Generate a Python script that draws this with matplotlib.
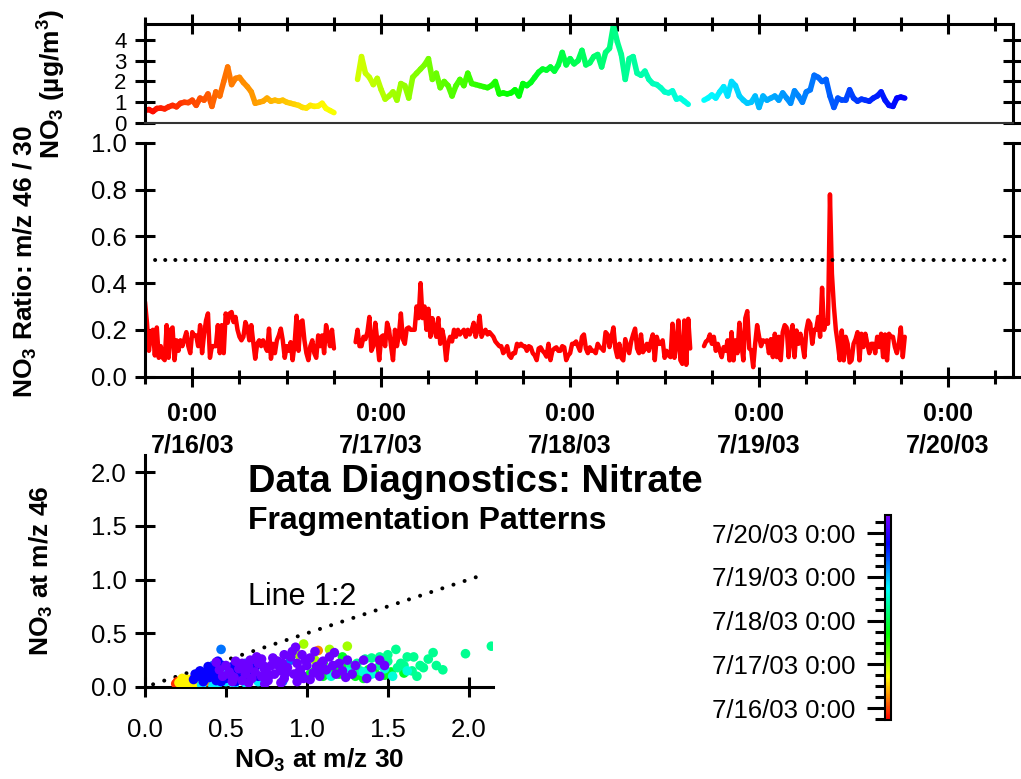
import numpy as np
import matplotlib
matplotlib.use("Agg")
import matplotlib.pyplot as plt
from matplotlib.collections import LineCollection
from matplotlib.colors import LinearSegmentedColormap, Normalize
import matplotlib.cm as cm
from matplotlib.ticker import MultipleLocator, FormatStrFormatter

plt.rcParams['font.family'] = ['Liberation Sans', 'DejaVu Sans']
plt.rcParams['mathtext.fontset'] = 'custom'
plt.rcParams['mathtext.rm'] = 'Liberation Sans'
plt.rcParams['mathtext.bf'] = 'Liberation Sans:bold'
plt.rcParams['mathtext.it'] = 'Liberation Sans:italic'

# ---------------- data (time in hours since 7/16/03 0:00) ----------------
NO3_STEP = 0.5
no3_seg1_start = -6.0
no3_seg1 = [0.6, 0.65, 0.55, 0.7, 0.72, 0.68, 0.78, 0.85, 0.78, 0.95, 1.0, 0.98,
            1.1, 0.85, 1.2, 1.1, 1.4, 0.8, 1.5, 1.3, 2.0, 2.7, 1.85, 2.15, 2.2,
            1.95, 1.75, 1.5, 0.95, 1.0, 1.05, 1.2, 1.05, 1.1, 1.05, 1.1, 1.0, 0.95,
            0.9, 0.85, 0.75, 0.72, 0.85, 0.8, 0.82, 0.95, 0.7, 0.6, 0.5]
no3_seg2_start = 21.0
no3_seg2 = [2.1, 3.2, 2.4, 2.2, 1.85, 2.15, 1.6, 1.15, 1.3, 1.5, 1.1, 1.9, 1.8, 1.2,
            2.2, 2.4, 2.6, 2.8, 3.1, 2.1, 2.4, 1.7, 2.0, 1.8, 1.3, 1.8, 2.1, 1.8,
            2.4, 1.9, 1.85, 1.8, 1.75, 1.7, 1.8, 2.0, 1.4, 1.45, 1.4, 1.45, 1.6,
            1.3, 1.9, 1.8, 1.95, 2.2, 2.45, 2.6, 2.55, 2.7, 2.5, 2.8, 3.4, 2.8, 3.1,
            2.85, 3.0, 3.5, 2.8, 2.9, 3.2, 3.3, 2.7, 3.4, 3.6, 4.7, 3.9, 3.3, 2.1,
            3.1, 3.2, 2.4, 2.3, 2.5, 2.1, 1.9, 1.85, 1.7, 1.5, 1.45, 1.55, 1.15,
            1.2, 1.05, 0.9]
no3_seg3_start = 65.0
no3_seg3 = [1.1, 1.2, 1.35, 1.2, 1.5, 1.75, 1.3, 2.0, 1.8, 1.3, 1.1, 0.95, 1.0, 1.3,
            0.75, 1.3, 1.1, 1.2, 1.3, 1.1, 1.45, 1.2, 0.95, 1.55, 1.3, 1.0, 1.5,
            1.6, 2.3, 2.2, 2.0, 2.1, 1.3, 0.75, 1.2, 1.1, 1.1, 1.6, 1.2, 1.05, 1.15,
            1.1, 1.05, 1.2, 1.3, 1.5, 1.1, 0.85, 0.8, 1.2, 1.25, 1.2]

RATIO_STEP = 0.25
ratio_seg1_start = -6.0
ratio_seg1 = [0.32, 0.23, 0.11, 0.19, 0.2, 0.09, 0.21, 0.08, 0.13, 0.08, 0.07, 0.22,
              0.08, 0.2, 0.21, 0.07, 0.155, 0.11, 0.155, 0.13, 0.16, 0.19, 0.13, 0.10,
              0.19, 0.176, 0.176, 0.13, 0.22, 0.10, 0.18, 0.24, 0.27, 0.08, 0.13, 0.13,
              0.13, 0.22, 0.10, 0.22, 0.10, 0.27, 0.23, 0.27, 0.276, 0.233, 0.255, 0.2,
              0.17, 0.155, 0.17, 0.233, 0.21, 0.155, 0.22, 0.147, 0.076, 0.14, 0.155,
              0.13, 0.155, 0.13, 0.11, 0.205, 0.076, 0.14, 0.10, 0.155, 0.176, 0.205,
              0.155, 0.08, 0.13, 0.11, 0.147, 0.07, 0.14, 0.26, 0.11, 0.233, 0.24,
              0.155, 0.10, 0.07, 0.13, 0.155, 0.10, 0.08, 0.176, 0.13, 0.176, 0.10,
              0.22, 0.176, 0.13, 0.2, 0.12]
ratio_seg2_start = 20.75
ratio_seg2 = [0.147, 0.2, 0.13, 0.13, 0.17, 0.16, 0.19, 0.255, 0.11, 0.13, 0.23, 0.155,
              0.07, 0.17, 0.176, 0.13, 0.23, 0.2, 0.13, 0.07, 0.2, 0.13, 0.18, 0.27,
              0.16, 0.14, 0.205, 0.21, 0.2, 0.2, 0.2, 0.3, 0.25,
              0.40, 0.25, 0.3, 0.2, 0.29, 0.17, 0.25, 0.2, 0.17, 0.25, 0.14, 0.2, 0.16,
              0.07, 0.14, 0.17, 0.15, 0.2, 0.17, 0.2, 0.18, 0.19, 0.2, 0.17, 0.2, 0.18,
              0.2, 0.23, 0.17, 0.2, 0.26, 0.17, 0.19, 0.2, 0.18, 0.19, 0.18, 0.17, 0.15,
              0.14, 0.13, 0.13, 0.1, 0.11, 0.13, 0.09, 0.08, 0.1, 0.1, 0.14, 0.13,
              0.14, 0.13, 0.13, 0.11, 0.13, 0.125, 0.1, 0.09, 0.07, 0.12, 0.125, 0.11,
              0.1, 0.085, 0.14, 0.07, 0.11, 0.12, 0.125, 0.11, 0.11, 0.13, 0.125, 0.07,
              0.09, 0.1, 0.14, 0.14, 0.15, 0.13, 0.11, 0.17, 0.18, 0.12, 0.1, 0.125,
              0.11, 0.11, 0.1, 0.14, 0.126, 0.12, 0.11, 0.19, 0.18, 0.126, 0.17, 0.21,
              0.12, 0.083, 0.14, 0.08, 0.069, 0.16, 0.13, 0.1, 0.15, 0.18, 0.205, 0.12,
              0.1, 0.18, 0.104, 0.12, 0.14, 0.11, 0.15, 0.18, 0.07, 0.17, 0.14, 0.14,
              0.155, 0.08, 0.11, 0.09, 0.083, 0.226, 0.08, 0.14, 0.24, 0.07, 0.054,
              0.24, 0.05, 0.247, 0.12]
ratio_seg3_start = 65.0
ratio_seg3 = [0.13, 0.15, 0.155, 0.18, 0.14, 0.17, 0.11, 0.14, 0.11, 0.083, 0.126, 0.11,
              0.155, 0.069, 0.19, 0.069, 0.155, 0.1, 0.23, 0.14, 0.069, 0.25, 0.28, 0.12,
              0.112, 0.04, 0.14, 0.22, 0.17, 0.13, 0.155, 0.15, 0.155, 0.1, 0.16, 0.083,
              0.183, 0.083, 0.17, 0.07, 0.19, 0.22, 0.21, 0.083, 0.18, 0.22, 0.083,
              0.197, 0.14, 0.183, 0.14, 0.083, 0.197, 0.24, 0.226, 0.14, 0.2, 0.2, 0.255,
              0.17, 0.38, 0.2, 0.24, 0.226, 0.78, 0.44, 0.3, 0.2, 0.14, 0.07, 0.197,
              0.069, 0.17, 0.14, 0.06, 0.069, 0.14, 0.16, 0.19, 0.069, 0.183, 0.126,
              0.183, 0.14, 0.1, 0.14, 0.14, 0.1, 0.17, 0.126, 0.183, 0.083, 0.18, 0.069,
              0.183, 0.17, 0.17, 0.126, 0.1, 0.14, 0.21, 0.083, 0.17]
ratio_threshold = 0.5

# scatter: NO3 at m/z 30 (x) vs m/z 46 (y); groups by acquisition time (h)
sc_red_t = -2.0
sc_red_x = [0.19, 0.21, 0.23, 0.20, 0.25, 0.22, 0.28, 0.30, 0.33, 0.35, 0.26]
sc_red_y = [0.03, 0.02, 0.04, 0.05, 0.03, 0.06, 0.02, 0.04, 0.02, 0.03, 0.05]
sc_orange_t = 6.0
sc_orange_x = [0.38, 1.07, 0.80, 0.31]
sc_orange_y = [0.05, 0.34, 0.25, 0.02]
sc_yellow_t = 16.0
sc_yellow_x = [0.22, 0.24, 0.26, 0.24, 0.27, 0.29, 0.23, 0.30, 0.26, 0.32, 0.28, 0.21, 0.25, 0.31]
sc_yellow_y = [0.05, 0.06, 0.04, 0.03, 0.07, 0.05, 0.08, 0.03, 0.02, 0.06, 0.04, 0.04, 0.07, 0.05]
sc_ygreen_t = 26.0
sc_ygreen_x = [0.98, 1.25, 1.14, 0.95, 1.05]
sc_ygreen_y = [0.40, 0.38, 0.35, 0.30, 0.25]
sc_green_t = 44.0
sc_green_x = [1.02, 1.05, 1.10, 1.15, 1.20, 1.25, 1.30, 1.35, 1.38, 1.42, 1.48, 1.52,
              1.60, 1.30, 1.18, 1.10, 1.22]
sc_green_y = [0.12, 0.15, 0.10, 0.14, 0.12, 0.18, 0.10, 0.08, 0.16, 0.13, 0.11, 0.14,
              0.13, 0.20, 0.20, 0.22, 0.28]
sc_spring_t = 55.0
sc_spring_x = [1.31, 1.40, 1.45, 1.50, 1.55, 1.58, 1.62, 1.65, 1.70, 1.75, 1.78, 1.80,
               1.84, 1.98, 2.14, 1.68, 1.72, 1.56, 1.50, 1.45, 1.36, 1.27, 1.33, 1.60, 1.66]
sc_spring_y = [0.22, 0.27, 0.20, 0.30, 0.35, 0.22, 0.28, 0.15, 0.20, 0.26, 0.32, 0.20,
               0.16, 0.31, 0.38, 0.10, 0.18, 0.18, 0.24, 0.28, 0.26, 0.20, 0.15, 0.20, 0.28]
sc_aqua_t = 62.0
sc_aqua_x = [1.25, 1.40, 1.48, 1.53, 1.15, 1.35, 1.62]
sc_aqua_y = [0.14, 0.12, 0.17, 0.10, 0.10, 0.14, 0.15]
sc_cyan_t = 67.0
sc_cyan_x = [0.35, 0.45, 0.55, 0.62, 0.70, 0.42, 0.50]
sc_cyan_y = [0.02, 0.03, 0.02, 0.04, 0.05, 0.01, 0.05]
sc_azure_t = 79.0
sc_azure_x = [0.47, 0.42, 0.62, 0.85, 0.58, 0.38, 0.52, 0.90]
sc_azure_y = [0.35, 0.20, 0.22, 0.05, 0.10, 0.08, 0.15, 0.25]
sc_blue_t = 91.0
sc_blue_x = [0.30, 0.33, 0.36, 0.38, 0.40, 0.42, 0.44, 0.46, 0.48, 0.50, 0.52, 0.54,
             0.56, 0.58, 0.60, 0.34, 0.39, 0.45, 0.55, 0.62, 0.65, 0.68, 0.70, 0.31,
             0.37, 0.43, 0.40, 0.47]
sc_blue_y = [0.07, 0.10, 0.05, 0.13, 0.09, 0.16, 0.06, 0.11, 0.20, 0.08, 0.13, 0.17,
             0.05, 0.12, 0.15, 0.15, 0.19, 0.24, 0.20, 0.08, 0.13, 0.18, 0.10, 0.12,
             0.09, 0.12, 0.15, 0.05]
sc_purple_t = 104.0
sc_purple_x = [0.48, 0.52, 0.55, 0.58, 0.60, 0.62, 0.64, 0.66, 0.68, 0.70, 0.72, 0.74,
               0.76, 0.78, 0.80, 0.82, 0.84, 0.86, 0.88, 0.90, 0.92, 0.94, 0.96, 0.98,
               1.00, 1.02, 1.04, 1.06, 1.08, 1.10, 1.12, 1.14, 1.16, 1.18, 0.93, 0.91,
               0.97, 1.05, 0.86, 0.79, 0.72, 0.69, 0.65, 0.60, 0.56, 0.50, 0.46, 0.44,
               0.54, 0.64, 0.74, 0.84, 0.94, 1.02, 0.77, 0.87, 0.97, 0.99, 1.09, 0.83,
               0.73, 0.63, 0.53, 1.20, 1.22, 1.24, 1.30, 1.35, 1.40, 1.45, 1.45, 1.37,
               1.28, 1.48, 1.25, 1.17, 0.75, 0.85, 0.95, 1.07]
sc_purple_y = [0.10, 0.14, 0.09, 0.17, 0.06, 0.12, 0.19, 0.08, 0.14, 0.22, 0.10, 0.16,
               0.06, 0.20, 0.12, 0.24, 0.15, 0.08, 0.18, 0.28, 0.12, 0.22, 0.16, 0.08,
               0.20, 0.27, 0.13, 0.19, 0.10, 0.24, 0.16, 0.28, 0.20, 0.12, 0.37, 0.33,
               0.30, 0.33, 0.30, 0.27, 0.26, 0.28, 0.25, 0.22, 0.24, 0.20, 0.16, 0.23,
               0.05, 0.04, 0.03, 0.04, 0.05, 0.07, 0.11, 0.13, 0.11, 0.25, 0.22, 0.19,
               0.20, 0.16, 0.11, 0.22, 0.15, 0.09, 0.20, 0.25, 0.18, 0.25, 0.10, 0.08,
               0.12, 0.20, 0.25, 0.32, 0.14, 0.22, 0.14, 0.16]

line12_x = [0.05, 2.1]
line12_slope = 0.5

day_ticks = [0, 24, 48, 72, 96]
day_labels = ["0:00\n7/16/03", "0:00\n7/17/03", "0:00\n7/18/03", "0:00\n7/19/03", "0:00\n7/20/03"]
cbar_labels = ["7/16/03 0:00", "7/17/03 0:00", "7/18/03 0:00", "7/19/03 0:00", "7/20/03 0:00"]

# ---------------- figure ----------------
W, H = 1021, 779
fig = plt.figure(figsize=(W / 100, H / 100), dpi=100)


def px_rect(x0, y0, x1, y1):
    return [x0 / W, 1 - y1 / H, (x1 - x0) / W, (y1 - y0) / H]


cmap = LinearSegmentedColormap.from_list(
    'igor_rainbow',
    [(0.0, '#ff0000'), (0.21, '#ffff00'), (0.42, '#00ff00'), (0.64, '#00ffff'),
     (0.86, '#0000ff'), (1.0, '#7a00ff')])
norm = Normalize(vmin=-6.5, vmax=106)

XLIM = (-6.0, 104.25)
SW = 2.2
TL = 14.4

ax1 = fig.add_axes(px_rect(145, 24, 1013, 123))
ax2 = fig.add_axes(px_rect(145, 143, 1013, 376.5))
ax3 = fig.add_axes(px_rect(145, 455, 493, 687))
cax = fig.add_axes(px_rect(885, 515, 891, 720))

# --- top panel: NO3 mass colored by time
for start, vals in [(no3_seg1_start, no3_seg1), (no3_seg2_start, no3_seg2),
                    (no3_seg3_start, no3_seg3)]:
    t = start + NO3_STEP * np.arange(len(vals))
    pts = np.column_stack([t, vals])
    segs = np.stack([pts[:-1], pts[1:]], axis=1)
    lc = LineCollection(segs, cmap=cmap, norm=norm, linewidths=4.0,
                        capstyle='round', joinstyle='round')
    lc.set_array((t[:-1] + t[1:]) / 2)
    ax1.add_collection(lc)
ax1.set_xlim(*XLIM)
ax1.set_ylim(0, 4.77)
ax1.xaxis.set_ticks_position('top')
ax1.set_xticks(day_ticks)
ax1.xaxis.set_minor_locator(MultipleLocator(6))
ax1.tick_params(axis='x', which='both', top=True, bottom=False, labeltop=False,
                labelbottom=False, direction='inout', width=SW)
ax1.tick_params(axis='x', which='major', length=TL)
ax1.tick_params(axis='x', which='minor', length=9.6)
ax1.set_yticks([0, 1, 2, 3, 4])
ax1.tick_params(axis='y', which='both', left=True, right=True, labelright=False,
                direction='inout', length=TL, width=SW, labelsize=16, pad=6)
for s in ['top', 'left', 'right']:
    ax1.spines[s].set_linewidth(SW)
ax1.spines['bottom'].set_linewidth(1.5)
ax1.spines['bottom'].set_color('#333333')
ax1.patch.set_alpha(0)

# --- middle panel: ratio
for start, vals in [(ratio_seg1_start, ratio_seg1), (ratio_seg2_start, ratio_seg2),
                    (ratio_seg3_start, ratio_seg3)]:
    t = start + RATIO_STEP * np.arange(len(vals))
    ax2.plot(t, vals, color='#ff0000', lw=3.2, solid_joinstyle='round',
             solid_capstyle='round')
ax2.axhline(ratio_threshold, color='black', lw=2.9, ls=(0, (0.01, 2.5)),
            dash_capstyle='round')
ax2.set_xlim(*XLIM)
ax2.set_ylim(0, 1.0)
ax2.set_xticks(day_ticks)
ax2.set_xticklabels(day_labels, fontweight='bold', fontsize=18, linespacing=1.4)
ax2.xaxis.set_minor_locator(MultipleLocator(6))
ax2.tick_params(axis='x', which='both', direction='inout', width=SW, pad=11)
ax2.tick_params(axis='x', which='major', length=TL)
ax2.tick_params(axis='x', which='minor', length=9.6)
ax2.set_yticks([0, 0.2, 0.4, 0.6, 0.8, 1.0])
ax2.yaxis.set_major_formatter(FormatStrFormatter('%.1f'))
ax2.tick_params(axis='y', which='both', left=True, right=True, labelright=False,
                direction='inout', length=TL, width=SW, labelsize=18.5, pad=6)
ax2.spines['top'].set_visible(False)
for s in ['bottom', 'left', 'right']:
    ax2.spines[s].set_linewidth(SW)
ax2.patch.set_alpha(0)

# --- scatter panel
groups = [(sc_red_t, sc_red_x, sc_red_y), (sc_orange_t, sc_orange_x, sc_orange_y),
          (sc_yellow_t, sc_yellow_x, sc_yellow_y), (sc_ygreen_t, sc_ygreen_x, sc_ygreen_y),
          (sc_green_t, sc_green_x, sc_green_y), (sc_spring_t, sc_spring_x, sc_spring_y),
          (sc_aqua_t, sc_aqua_x, sc_aqua_y), (sc_cyan_t, sc_cyan_x, sc_cyan_y),
          (sc_azure_t, sc_azure_x, sc_azure_y), (sc_blue_t, sc_blue_x, sc_blue_y),
          (sc_purple_t, sc_purple_x, sc_purple_y)]
lx = np.array(line12_x)
ax3.plot(lx, line12_slope * lx, color='black', lw=2.9, ls=(0, (0.01, 2.9)),
         dash_capstyle='round', zorder=2)
for i, (tg, xs, ys) in enumerate(groups):
    ax3.scatter(xs, ys, c=np.full(len(xs), tg), cmap=cmap, norm=norm, s=48,
                edgecolors='none', zorder=3 + i)
ax3.set_xlim(0, 2.15)
ax3.set_ylim(0, 2.16)
ax3.set_xticks([0, 0.5, 1.0, 1.5, 2.0])
ax3.set_yticks([0, 0.5, 1.0, 1.5, 2.0])
ax3.xaxis.set_major_formatter(FormatStrFormatter('%.1f'))
ax3.yaxis.set_major_formatter(FormatStrFormatter('%.1f'))
ax3.tick_params(axis='x', direction='inout', length=TL, width=SW, labelsize=18.5, pad=15)
ax3.tick_params(axis='y', direction='inout', length=TL, width=SW, labelsize=18.5, pad=6)
ax3.spines['top'].set_visible(False)
ax3.spines['right'].set_visible(False)
for s in ['bottom', 'left']:
    ax3.spines[s].set_linewidth(SW)
ax3.patch.set_alpha(0)

# --- colorbar
sm = cm.ScalarMappable(norm=norm, cmap=cmap)
cb = fig.colorbar(sm, cax=cax)
cb.set_ticks(day_ticks)
cb.set_ticklabels(cbar_labels)
cax.yaxis.set_ticks_position('left')
cax.yaxis.set_minor_locator(MultipleLocator(6))
cax.tick_params(which='major', length=13, width=SW, labelsize=18.5, pad=8)
cax.tick_params(which='minor', length=7, width=SW)
cb.outline.set_linewidth(1.5)

# --- labels and texts
fig.text(25 / W, 1 - 262 / H, r"NO$_\mathbf{3}$ Ratio: m/z 46 / 30", rotation=90,
         ha='center', va='center', fontsize=19, fontweight='bold')
fig.text(52 / W, 1 - 84 / H, r"NO$_\mathbf{3}$ (µg/m$^\mathbf{3}$)", rotation=90,
         ha='center', va='center', fontsize=19, fontweight='bold')
fig.text(41 / W, 1 - 571 / H, r"NO$_\mathbf{3}$ at m/z 46", rotation=90,
         ha='center', va='center', fontsize=19, fontweight='bold')
fig.text(319 / W, 1 - 760 / H, r"NO$_\mathbf{3}$ at m/z 30",
         ha='center', va='center', fontsize=19, fontweight='bold')
fig.text(248 / W, 1 - 492 / H, "Data Diagnostics: Nitrate", ha='left',
         va='baseline', fontsize=27.5, fontweight='bold')
fig.text(248 / W, 1 - 529 / H, "Fragmentation Patterns", ha='left',
         va='baseline', fontsize=23, fontweight='bold')
fig.text(248 / W, 1 - 605 / H, "Line 1:2", ha='left', va='baseline', fontsize=22)

fig.savefig('out.png', dpi=100)
